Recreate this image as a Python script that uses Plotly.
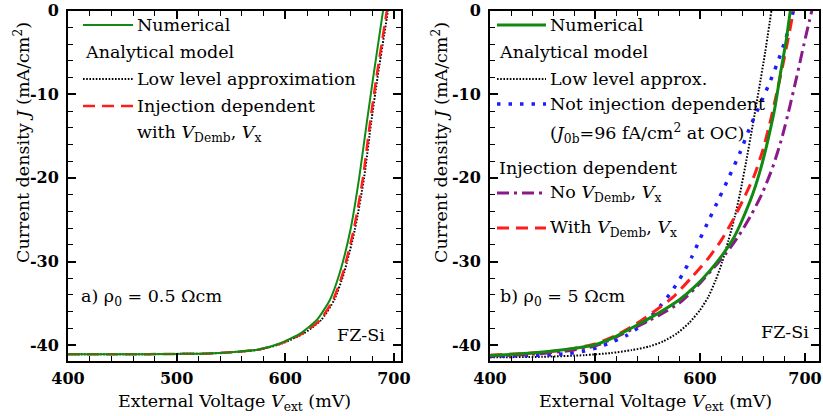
import plotly.graph_objects as go

# ---------------- data: panel a) rho0 = 0.5 Ohm cm ----------------
a_num_v = [400, 450, 500, 530, 550, 574, 595, 614, 629, 641, 650, 660, 668, 675, 681, 686, 690]
a_num_j = [-41.1, -41.1, -41.05, -41.0, -40.85, -40.55, -39.8, -38.6, -37.0, -34.6, -31.4, -26.2, -20.0, -13.4, -7.9, -3.5, 0.0]

a_inj_v = [400, 450, 500, 530, 550, 575, 596, 616, 632, 644, 653, 663, 671.5, 678, 684, 690, 693.5]
a_inj_j = [-41.1, -41.1, -41.05, -41.0, -40.85, -40.55, -39.8, -38.6, -37.0, -34.6, -31.4, -26.2, -20.0, -13.4, -7.9, -2.9, 0.0]

a_low_v = [400, 450, 500, 530, 550, 576, 597, 617, 633, 645, 654, 664, 672.5, 679, 685, 691, 694.5]
a_low_j = [-41.1, -41.1, -41.05, -41.0, -40.85, -40.55, -39.8, -38.6, -37.0, -34.6, -31.4, -26.2, -20.0, -13.4, -7.9, -2.9, 0.0]

# ---------------- data: panel b) rho0 = 5 Ohm cm ----------------
b_num_v = [400, 440, 470, 500, 520, 540, 560, 580, 595, 610, 622, 632, 641, 650, 658, 665, 671, 677, 682, 686]
b_num_j = [-41.25, -40.95, -40.55, -39.95, -38.95, -37.6, -36.2, -34.6, -33.0, -31.0, -29.1, -27.2, -24.8, -22.0, -18.8, -15.3, -11.8, -7.2, -3.6, 0.0]

b_with_v = [400, 440, 470, 500, 520, 540, 556, 574, 592, 608, 620, 632, 643, 652, 660, 667, 673, 679, 684, 689]
b_with_j = [-41.2, -40.95, -40.6, -39.85, -38.85, -37.4, -36.0, -34.3, -31.9, -29.6, -27.5, -24.9, -22.1, -19.6, -16.6, -13.2, -9.9, -6.4, -3.3, 0.0]

b_nov_v = [400, 440, 470, 500, 520, 540, 560, 580, 597, 612, 625, 637, 648, 659, 669, 678, 686, 693, 699, 704, 706.5]
b_nov_j = [-41.3, -41.1, -40.75, -40.1, -39.05, -37.8, -36.5, -35.0, -33.0, -30.9, -29.0, -26.9, -24.6, -21.9, -18.8, -15.2, -11.2, -7.4, -4.0, -1.3, 0.0]

b_notinj_v = [400, 450, 475, 490, 502, 515, 530, 543, 553, 563, 573, 583, 592, 600, 609, 618, 628, 638, 648, 658, 667, 675, 682, 689]
b_notinj_j = [-41.35, -41.2, -41.0, -40.7, -40.3, -39.7, -38.85, -37.75, -36.6, -35.2, -33.6, -31.6, -29.5, -27.3, -24.9, -22.5, -19.8, -17.0, -13.8, -11.0, -8.4, -5.8, -3.2, 0.0]

b_low_v = [400, 450, 490, 515, 535, 552, 565, 578, 590, 600, 608, 615, 621, 627, 633, 638, 644, 650, 656, 662, 668]
b_low_j = [-41.45, -41.4, -41.2, -40.95, -40.6, -40.15, -39.55, -38.6, -37.3, -35.8, -34.2, -32.2, -30.1, -27.5, -24.7, -21.9, -18.0, -13.8, -9.5, -5.0, 0.0]

x_ticks = [400, 500, 600, 700]
y_ticks = [0, -10, -20, -30, -40]
y_tick_text = ["0", "-10", "-20", "-30", "-40"]

# ---------------- styles ----------------
GREEN = "#108a10"
RED = "#ff1c1c"
BLUE = "#1c1cff"
PURPLE = "#8a1a8a"
BLACK = "#000000"

DOT_FINE = "1.6px,1.6px"
DASH = "12px,7px"
DOT_BIG = "3.5px,8px"
DASHDOT = "12px,5px,3px,5px"

W, H = 823, 416
FONT = "DejaVu Serif"
TXT = 17.5


def px(xp):
    return xp / W


def py(yp):
    return 1 - yp / H


fig = go.Figure()


def add(v, j, color, width, dash, xa, ya):
    fig.add_trace(go.Scatter(
        x=v, y=j, mode="lines", xaxis=xa, yaxis=ya, showlegend=False,
        line=dict(color=color, width=width, dash=dash, shape="spline", smoothing=0.6),
        hoverinfo="skip"))


# panel a
add(a_low_v, a_low_j, BLACK, 2, DOT_FINE, "x", "y")
add(a_inj_v, a_inj_j, RED, 2.5, DASH, "x", "y")
add(a_num_v, a_num_j, GREEN, 2, "solid", "x", "y")

# panel b
add(b_low_v, b_low_j, BLACK, 2, DOT_FINE, "x2", "y2")
add(b_notinj_v, b_notinj_j, BLUE, 3.5, DOT_BIG, "x2", "y2")
add(b_nov_v, b_nov_j, PURPLE, 3, DASHDOT, "x2", "y2")
add(b_with_v, b_with_j, RED, 3, DASH, "x2", "y2")
add(b_num_v, b_num_j, GREEN, 3, "solid", "x2", "y2")

axis_common = dict(
    showline=True, linecolor="black", linewidth=2, mirror="allticks",
    ticks="inside", ticklen=8, tickwidth=1.5, tickcolor="black",
    showgrid=False, zeroline=False, automargin=False, ticklabeloverflow="allow",
    tickfont=dict(family=FONT, size=16, color="black", weight="bold"),
)

y_dom = [py(361), py(10.5)]
y_range = [-41.9, 0.02]

fig.update_layout(
    width=W, height=H,
    margin=dict(l=0, r=0, t=0, b=0, pad=0),
    paper_bgcolor="white", plot_bgcolor="white",
    font=dict(family=FONT, size=TXT, color="black"),
    xaxis=dict(domain=[px(68), px(401)], range=[400, 706.5], tickvals=x_ticks,
               minor=dict(dtick=20, ticklen=5, tickwidth=1.2, tickcolor="black", ticks="inside"),
               anchor="y", ticklabelstandoff=2, **axis_common),
    yaxis=dict(domain=y_dom, range=y_range, tickvals=y_ticks, ticktext=y_tick_text,
               minor=dict(dtick=2, ticklen=5, tickwidth=1.2, tickcolor="black", ticks="inside"),
               anchor="x", ticklabelstandoff=4, **axis_common),
    xaxis2=dict(domain=[px(490), px(819)], range=[400, 713.3], tickvals=x_ticks,
                minor=dict(dtick=20, ticklen=5, tickwidth=1.2, tickcolor="black", ticks="inside"),
                anchor="y2", ticklabelstandoff=2, **axis_common),
    yaxis2=dict(domain=y_dom, range=y_range, tickvals=y_ticks, ticktext=y_tick_text,
                minor=dict(dtick=2, ticklen=5, tickwidth=1.2, tickcolor="black", ticks="inside"),
                anchor="x2", ticklabelstandoff=4, **axis_common),
)

annotations = []
shapes = []


def text(x, y, s, anchor="left", size=TXT, angle=0):
    annotations.append(dict(
        x=px(x), y=py(y), xref="paper", yref="paper", text=s, showarrow=False,
        xanchor=anchor, yanchor="middle", textangle=angle,
        font=dict(family=FONT, size=size, color="black")))


def sample(x0, x1, y, color, width, dash):
    shapes.append(dict(type="line", xref="paper", yref="paper",
                       x0=px(x0), x1=px(x1), y0=py(y), y1=py(y),
                       line=dict(color=color, width=width, dash=dash)))


VD = "<i>V</i><sub>Demb</sub>, <i>V</i><sub>x</sub>"

# legend, panel a
sample(83, 133, 25, GREEN, 2, "solid")
text(135, 25, "Numerical")
text(83, 52, "Analytical model")
sample(83, 133, 79, BLACK, 2, DOT_FINE)
text(135, 79, "Low level approximation")
sample(83, 133, 106, RED, 2.5, DASH)
text(135, 106, "Injection dependent")
text(135, 133, "with " + VD)

# legend, panel b
sample(497, 546, 25, GREEN, 3, "solid")
text(548, 25, "Numerical")
text(497, 52, "Analytical model")
sample(497, 546, 79, BLACK, 2, DOT_FINE)
text(548, 79, "Low level approx.")
sample(497, 546, 104, BLUE, 3.5, DOT_BIG)
text(548, 104, "Not injection dependent")
text(548, 133, "(<i>J</i><sub>0b</sub>=96 fA/cm<sup>2</sup> at OC)")
text(497, 168, "Injection dependent")
sample(497, 546, 193, PURPLE, 3, DASHDOT)
text(548, 193, "No " + VD)
sample(497, 546, 228, RED, 3, DASH)
text(548, 228, "With " + VD)

# panel labels
text(79, 297, "a) ρ<sub>0</sub> = 0.5 Ωcm")
text(387, 335, "FZ-Si", anchor="right")
text(498, 297, "b) ρ<sub>0</sub> = 5 Ωcm")
text(811, 332, "FZ-Si", anchor="right")

# axis titles
xt = "External Voltage <i>V</i><sub>ext</sub> (mV)"
yt = "Current density <i>J</i> (mA/cm<sup>2</sup>)"
text(234.5, 402, xt, anchor="center")
text(655, 402, xt, anchor="center")
text(22, 143, yt, anchor="center", angle=-90)
text(440, 143, yt, anchor="center", angle=-90)

fig.update_layout(annotations=annotations, shapes=shapes)

fig.write_html("out.html")
